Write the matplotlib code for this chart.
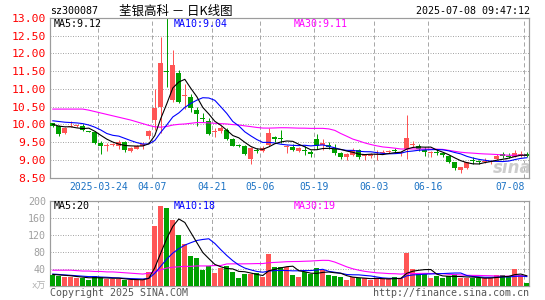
import matplotlib
matplotlib.use("Agg")
import matplotlib.pyplot as plt
import numpy as np
import pandas as pd

plt.rcParams['lines.scale_dashes'] = False

# ---------------- data ----------------
opens = [10.03, 9.94, 9.75, 9.93, 9.95, 9.96, 9.80, 9.77, 9.47, 9.40,
         9.41, 9.38, 9.50, 9.24, 9.31, 9.38, 9.66, 10.12, 10.50, 11.50,
         10.69, 11.44, 10.80, 10.76, 10.41, 10.17, 10.08, 9.78, 9.82, 9.84,
         9.59, 9.42, 9.39, 9.03, 9.27, 9.24, 9.42, 9.62, 9.62, 9.37,
         9.37, 9.25, 9.27, 9.21, 9.59, 9.43, 9.42, 9.31, 9.19, 9.09,
         9.14, 9.28, 9.10, 9.12, 9.14, 9.20, 9.22, 9.25, 9.18, 9.31,
         9.42, 9.40, 9.27, 9.19, 9.22, 9.19, 9.12, 8.93, 8.70, 8.77,
         9.00, 8.95, 8.94, 8.93, 9.03, 9.16, 9.11, 9.09, 9.13, 9.15]
highs = [10.05, 9.97, 9.93, 10.08, 9.99, 10.00, 9.82, 9.80, 9.52, 9.47,
         9.46, 9.56, 9.52, 9.35, 9.42, 9.49, 9.84, 11.00, 12.47, 13.30,
         12.09, 11.53, 11.15, 10.85, 10.50, 10.31, 10.17, 9.89, 9.94, 9.89,
         9.62, 9.45, 9.42, 9.35, 9.33, 9.38, 9.89, 9.68, 9.84, 9.42,
         9.44, 9.35, 9.40, 9.28, 9.72, 9.59, 9.50, 9.44, 9.22, 9.19,
         9.33, 9.31, 9.16, 9.19, 9.28, 9.28, 9.28, 9.33, 9.25, 10.27,
         9.53, 9.44, 9.37, 9.25, 9.31, 9.23, 9.14, 8.95, 8.81, 8.95,
         9.07, 9.00, 9.05, 9.00, 9.16, 9.23, 9.19, 9.28, 9.25, 9.23]
lows = [9.92, 9.68, 9.72, 9.92, 9.92, 9.80, 9.77, 9.44, 9.16, 9.25,
        9.38, 9.31, 9.21, 9.21, 9.29, 9.30, 9.59, 9.85, 9.75, 11.06,
        10.64, 10.59, 10.44, 10.36, 9.96, 10.06, 9.70, 9.65, 9.75, 9.56,
        9.38, 9.36, 9.14, 8.89, 9.18, 9.22, 9.40, 9.49, 9.47, 9.19,
        9.25, 9.23, 9.14, 9.09, 9.31, 9.28, 9.31, 9.14, 9.03, 9.00,
        9.12, 9.03, 9.00, 9.05, 9.00, 9.16, 9.19, 9.19, 9.12, 9.03,
        9.37, 9.25, 9.12, 9.09, 9.14, 9.09, 8.91, 8.72, 8.62, 8.75,
        8.88, 8.88, 8.91, 8.88, 9.00, 9.05, 9.05, 9.07, 9.07, 9.07]
closes = [9.94, 9.73, 9.91, 9.96, 9.96, 9.84, 9.79, 9.47, 9.39, 9.42,
          9.43, 9.50, 9.28, 9.33, 9.39, 9.45, 9.80, 10.45, 11.74, 11.47,
          11.67, 10.64, 10.83, 10.47, 10.29, 10.15, 9.72, 9.80, 9.91, 9.59,
          9.40, 9.40, 9.16, 9.33, 9.25, 9.33, 9.75, 9.60, 9.58, 9.39,
          9.28, 9.33, 9.25, 9.16, 9.40, 9.45, 9.35, 9.19, 9.08, 9.16,
          9.28, 9.09, 9.12, 9.14, 9.16, 9.22, 9.24, 9.24, 9.20, 9.61,
          9.45, 9.31, 9.21, 9.21, 9.20, 9.14, 8.95, 8.77, 8.81, 8.93,
          8.97, 8.93, 8.96, 8.96, 9.12, 9.10, 9.09, 9.18, 9.15, 9.12]
volumes = [26, 23, 22, 22, 18, 19, 15, 23, 21, 16,
           16, 16, 15, 14, 14, 14, 32, 140, 188, 183,
           155, 119, 99, 70, 66, 38, 48, 31, 42, 46,
           33, 19, 27, 27, 30, 20, 74, 44, 44, 44,
           26, 21, 32, 27, 42, 37, 26, 23, 21, 14,
           20, 19, 18, 15, 18, 16, 16, 21, 18, 78,
           40, 27, 29, 19, 24, 19, 23, 27, 18, 19,
           18, 18, 19, 19, 26, 26, 23, 39, 26, 6]

# moving-average values at the start of the window (read from the chart,
# they depend on sessions before the first candle)
ma5_head = [10.00, 9.95, 9.93, 9.93]
ma10_head = [10.10, 10.08, 10.06, 10.05, 10.04, 10.02, 9.98, 9.92, 9.84]
ma30_head = [10.43, 10.43, 10.43, 10.43, 10.43, 10.43, 10.40, 10.36, 10.32, 10.28,
             10.24, 10.20, 10.16, 10.12, 10.07, 10.02, 9.97, 9.93, 9.92, 9.94,
             9.98, 10.00, 10.01, 10.03, 10.05, 10.05, 10.04, 10.03, 10.02]
vma5_head = [27, 26, 25, 24]
vma10_head = [28, 27, 26, 25, 24, 23, 22, 22, 21]
vma30_head = [37, 37, 37, 37, 36, 35, 35, 34, 34, 33,
              33, 32, 31, 30, 29, 28, 30, 33, 38, 42,
              44, 45, 46, 46, 47, 47, 47, 48, 48]

date_idx = [8, 17, 27, 35, 44, 54, 63, 79]
date_labels = ['2025-03-24', '04-07', '04-21', '05-06', '05-19', '06-03', '06-16', '07-08']
price_ticks = [8.50, 9.00, 9.50, 10.00, 10.50, 11.00, 11.50, 12.00, 12.50, 13.00]
vol_ticks = [40, 80, 120, 160, 200]

title_code = 'sz300087'
title_name = '荃银高科 － 日K线图'
timestamp = '2025-07-08 09:47:12'
price_ma_text = ['MA5:9.12', 'MA10:9.04', 'MA30:9.11']
vol_ma_text = ['MA5:20', 'MA10:18', 'MA30:19']


def moving(vals, n, head):
    r = pd.Series(vals, dtype=float).rolling(n).mean().to_numpy()
    r[:n - 1] = head
    return r


# ---------------- styling ----------------
W, H = 545, 300
RED = '#ff5555'
GREEN = '#00a000'
GRID = '#a8a8a8'
FRAME = '#9c9c9c'
XLAB = '#1b72c4'
MONO = 'DejaVu Sans Mono'
PX = 72 / 100.0  # one pixel in points

fig = plt.figure(figsize=(W / 100, H / 100), dpi=100)
fig.patch.set_facecolor('white')


def fx(x):
    return x / W


def fy(y):
    return 1 - y / H


ax = fig.add_axes([fx(50), fy(177.5), 479 / W, 159.5 / H])
axv = fig.add_axes([fx(50), fy(286), 479 / W, 85.4 / H])

n = len(closes)
idx = np.arange(n)
o = np.array(opens)
c = np.array(closes)
hi = np.array(highs)
lo = np.array(lows)
v = np.array(volumes)
up = c >= o
cols = [RED if u else GREEN for u in up]

xmin, xmax = -0.47, 79.37

for a in (ax, axv):
    a.set_xlim(xmin, xmax)
    for s in a.spines.values():
        s.set_color(FRAME)
        s.set_linewidth(1.2 * PX)
    for d in date_idx:
        a.axvline(d - 0.42, color=GRID, lw=PX, ls=(0, (3.0, 2.0)), zorder=0.5)

# price grid
ax.set_ylim(8.5, 13.0)
ax.set_yticks(price_ticks)
ax.set_yticklabels(['%.2f' % t for t in price_ticks])
ax.yaxis.grid(True, color=GRID, lw=PX, ls=(0, (PX, 1.5 * PX)))
ax.set_axisbelow(True)
ax.tick_params(axis='y', length=0, pad=3, labelcolor='#ff0000', labelsize=8.2)
for t in ax.get_yticklabels():
    t.set_family(MONO)
ax.set_xticks([d - 0.42 for d in date_idx])
ax.set_xticklabels(date_labels)
ax.tick_params(axis='x', length=0, pad=3.2, labelcolor=XLAB, labelsize=7)
xl = ax.get_xticklabels()
for t in xl:
    t.set_family(MONO)
xl[-1].set_horizontalalignment('right')

# watermark
ax.text(0.965, 0.06, 'sina', transform=ax.transAxes, fontsize=12, style='italic',
        weight='bold', color='#cccccc', ha='center', va='center', zorder=0.6,
        family='DejaVu Sans')

# candles
ax.vlines(idx, lo, hi, colors=cols, lw=PX, zorder=2)
body_bottom = np.minimum(o, c)
body_h = np.maximum(np.abs(c - o), 0.03)
ax.bar(idx, body_h, bottom=body_bottom, width=0.8, color=cols, lw=0, zorder=3)

# price MAs
LW = 0.8
ax.plot(idx, moving(closes, 30, ma30_head), color='#ff00ff', lw=LW, zorder=4)
ax.plot(idx, moving(closes, 10, ma10_head), color='#0000ff', lw=LW, zorder=5)
ax.plot(idx, moving(closes, 5, ma5_head), color='#000000', lw=LW, zorder=6)

# volume
axv.set_ylim(0, 200)
axv.set_yticks(vol_ticks)
axv.set_yticklabels([str(t) for t in vol_ticks])
axv.yaxis.grid(True, color=GRID, lw=PX, ls=(0, (PX, 1.5 * PX)))
axv.set_axisbelow(True)
axv.tick_params(axis='y', length=0, pad=3, labelcolor='#a0a0a0', labelsize=7.2)
for t in axv.get_yticklabels():
    t.set_family(MONO)
axv.set_xticks([])
axv.bar(idx, v, width=0.8, color=cols, lw=0, zorder=3)
axv.plot(idx, moving(volumes, 30, vma30_head), color='#ff00ff', lw=LW, zorder=4)
axv.plot(idx, moving(volumes, 10, vma10_head), color='#0000ff', lw=LW, zorder=5)
axv.plot(idx, moving(volumes, 5, vma5_head), color='#000000', lw=LW, zorder=6)

# texts
fs = 7.2
fig.text(fx(50), fy(11), title_code, family=MONO, fontsize=fs, color='#000000', va='center')
fig.text(fx(119), fy(11), title_name, family=['Noto Sans CJK SC', 'DejaVu Sans'],
         fontsize=9.0, color='#000000', va='center')
fig.text(fx(530), fy(11), timestamp, family=MONO, fontsize=fs, color='#000000',
         va='center', ha='right')
ma_cols = ['#000000', '#0000ff', '#ff00ff']
for k in range(3):
    fig.text(fx(54 + 120 * k), fy(24), price_ma_text[k], family=MONO, fontsize=fs,
             color=ma_cols[k], va='center')
    fig.text(fx(54 + 120 * k), fy(206), vol_ma_text[k], family=MONO, fontsize=fs,
             color=ma_cols[k], va='center')
fig.text(fx(46), fy(286), 'x万', family=['DejaVu Sans Mono', 'Noto Sans CJK SC'],
         fontsize=6.5, color='#b0b0b0', va='center', ha='right')
fig.text(fx(50), fy(293), 'Copyright 2025 SINA.COM', family=MONO, fontsize=fs,
         color='#555555', va='center')
fig.text(fx(529), fy(293), 'http://finance.sina.com.cn', family=MONO, fontsize=fs,
         color='#555555', va='center', ha='right')

fig.savefig('out.png', dpi=100)
